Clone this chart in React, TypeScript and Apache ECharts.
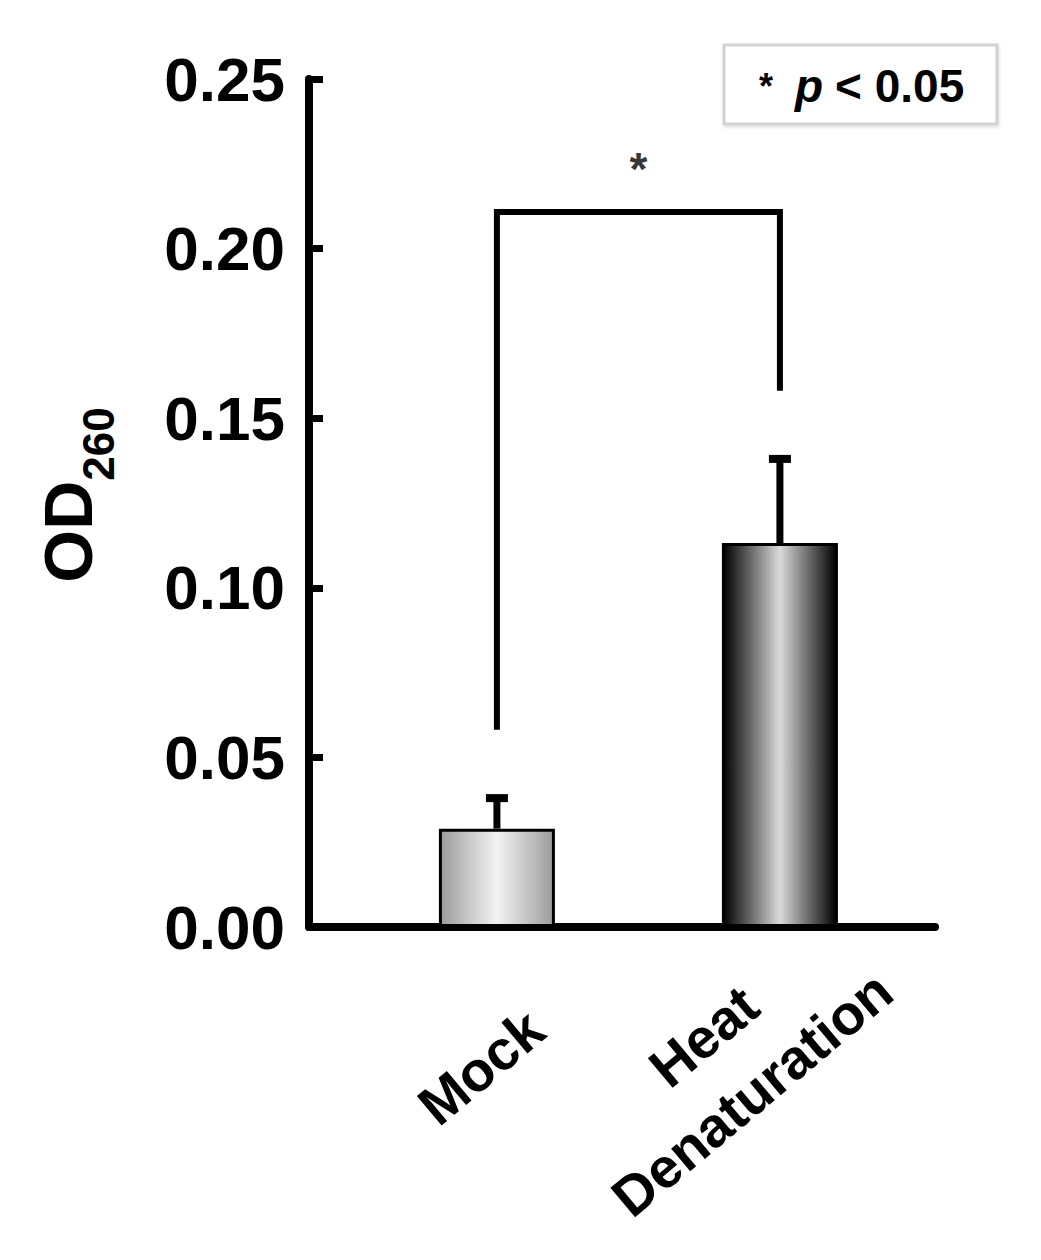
import React, { useEffect, useRef } from "react";
import * as echarts from "echarts";

const categories = ["Mock", "Heat\nDenaturation"];
const meanValues = [0.029, 0.1132];
const errorValues = [0.009, 0.0248];
const yTicks = [0, 0.05, 0.1, 0.15, 0.2, 0.25];
const bracketPoints = [
  [0, 0.059],
  [0, 0.2108],
  [1, 0.2108],
  [1, 0.159],
];
const starPoint = [0.5, 0.2235];
const legendText = ["*", "p", "< 0.05"];

const FONT = "'Liberation Sans', Arial, Helvetica, sans-serif";

export default function App() {
  const ref = useRef<HTMLDivElement>(null);

  useEffect(() => {
    if (!ref.current) return;
    const chart = echarts.init(ref.current, null, { renderer: "svg" });

    const gradients = [
      new echarts.graphic.LinearGradient(0, 0, 1, 0, [
        { offset: 0, color: "#9c9c9c" },
        { offset: 0.5, color: "#f3f3f3" },
        { offset: 1, color: "#9c9c9c" },
      ]),
      new echarts.graphic.LinearGradient(0, 0, 1, 0, [
        { offset: 0, color: "#000000" },
        { offset: 0.5, color: "#dadada" },
        { offset: 1, color: "#000000" },
      ]),
    ];

    const option: any = {
      animation: false,
      backgroundColor: "#ffffff",
      grid: { left: 309, right: 106, top: 79, bottom: 333, containLabel: false, outerBoundsMode: "none" },
      xAxis: {
        type: "value",
        min: -0.664,
        max: 1.548,
        axisLine: { show: true, onZero: false, lineStyle: { color: "#000", width: 8 } },
        axisTick: { show: false },
        axisLabel: { show: false },
        splitLine: { show: false },
      },
      yAxis: {
        type: "value",
        min: yTicks[0],
        max: yTicks[yTicks.length - 1],
        interval: 0.05,
        axisLine: { show: true, onZero: false, lineStyle: { color: "#000", width: 8 } },
        axisTick: { show: true, inside: true, length: 14, lineStyle: { color: "#000", width: 7 } },
        axisLabel: {
          margin: 24,
          fontFamily: FONT,
          fontWeight: "bold",
          fontSize: 62,
          color: "#000",
          formatter: (v: number) => v.toFixed(2),
        },
        splitLine: { show: false },
        name: "{a|OD}{b|260}",
        nameLocation: "middle",
        nameRotate: 90,
        nameGap: 189,
        nameTextStyle: {
          padding: [0, 0, 0, 16],
          rich: {
            a: { fontFamily: FONT, fontWeight: "bold", fontSize: 68, lineHeight: 86, verticalAlign: "top", color: "#000" },
            b: { fontFamily: FONT, fontWeight: "bold", fontSize: 44, lineHeight: 44, verticalAlign: "bottom", color: "#000" },
          },
        },
      },
      series: [
        {
          type: "bar",
          barWidth: 116,
          data: meanValues.map((v, i) => ({
            value: [i, v],
            itemStyle: { color: gradients[i], borderColor: "#000", borderWidth: 3 },
          })),
          z: 2,
        },
        {
          type: "custom",
          data: meanValues.map((v, i) => [i, v, errorValues[i]]),
          z: 3,
          renderItem: (params: any, api: any) => {
            const x = api.value(0);
            const y = api.value(1);
            const e = api.value(2);
            const p0 = api.coord([x, y]);
            const p1 = api.coord([x, y + e]);
            return {
              type: "group",
              children: [
                {
                  type: "line",
                  shape: { x1: p0[0], y1: p0[1], x2: p1[0], y2: p1[1] },
                  style: { stroke: "#000", lineWidth: 7 },
                },
                {
                  type: "line",
                  shape: { x1: p1[0] - 11, y1: p1[1], x2: p1[0] + 11, y2: p1[1] },
                  style: { stroke: "#000", lineWidth: 8 },
                },
              ],
            };
          },
        },
        {
          type: "line",
          data: bracketPoints,
          symbol: "none",
          lineStyle: { color: "#000", width: 6, join: "miter", cap: "square" },
          z: 4,
        },
        {
          type: "scatter",
          data: [starPoint],
          symbolSize: 0,
          label: {
            show: true,
            position: "inside",
            formatter: "*",
            fontFamily: FONT,
            fontWeight: "bold",
            fontSize: 46,
            color: "#000",
          },
          z: 5,
        },
      ],
      graphic: [
        {
          type: "rect",
          shape: { x: 724, y: 45, width: 273, height: 79 },
          style: { fill: "#fff", stroke: "#d2d2d2", lineWidth: 3, shadowColor: "rgba(0,0,0,0.12)", shadowBlur: 3, shadowOffsetX: 1, shadowOffsetY: 2 },
          z: 10,
        },
        {
          type: "text",
          x: 759,
          y: 86,
          style: {
            text: `{s|${legendText[0]}}{p|${legendText[1]}}{t|${legendText[2]}}`,
            verticalAlign: "middle",
            align: "left",
            rich: {
              s: { fontFamily: FONT, fontWeight: "bold", fontSize: 36, fill: "#000", padding: [0, 22, 0, 0] },
              p: { fontFamily: FONT, fontWeight: "bold", fontStyle: "italic", fontSize: 46, fill: "#000", padding: [0, 12, 0, 0] },
              t: { fontFamily: FONT, fontWeight: "bold", fontSize: 46, fill: "#000" },
            },
          },
          z: 11,
        },
      ],
    };

    chart.setOption(option);

    const offsets = [
      [-16, 140],
      [-52, 138],
    ];
    const labelGraphics = categories.map((c, i) => {
      const p = chart.convertToPixel({ xAxisIndex: 0, yAxisIndex: 0 }, [i, 0]) as number[];
      return {
        type: "text",
        x: p[0] + offsets[i][0],
        y: p[1] + offsets[i][1],
        rotation: (40 * Math.PI) / 180,
        style: {
          text: c,
          align: "center",
          verticalAlign: "middle",
          fontFamily: FONT,
          fontWeight: "bold",
          fontSize: 56,
          lineHeight: 75,
          fill: "#000",
        },
        z: 10,
      };
    });
    chart.setOption({ graphic: [...option.graphic, ...labelGraphics] });

    return () => chart.dispose();
  }, []);

  return (
    <div
      ref={ref}
      style={{ position: "fixed", left: 0, top: 0, width: 1041, height: 1260, background: "#fff" }}
    />
  );
}
